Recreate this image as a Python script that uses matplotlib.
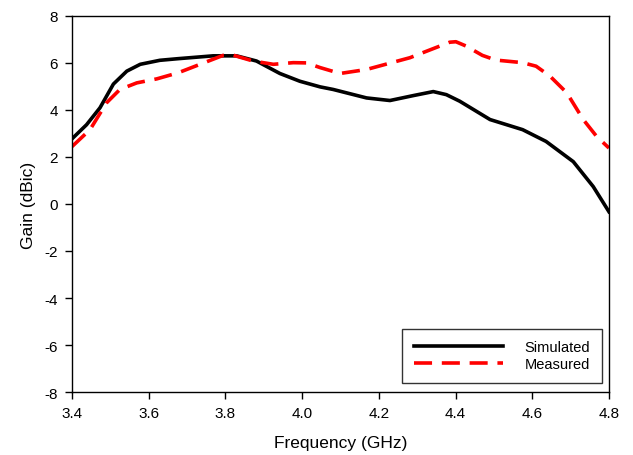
import matplotlib
matplotlib.use("Agg")
import matplotlib.pyplot as plt

plt.rcParams["font.family"] = ["Liberation Sans", "DejaVu Sans"]
plt.rcParams["axes.unicode_minus"] = False

# ------------------------------------------------------
# Data
# ------------------------------------------------------
sim_f = [3.400, 3.438, 3.473, 3.508, 3.543, 3.578, 3.629, 3.677, 3.768, 3.829,
         3.881, 3.942, 3.994, 4.047, 4.081, 4.168, 4.229, 4.290, 4.342, 4.376,
         4.411, 4.490, 4.575, 4.636, 4.707, 4.759, 4.800]
sim_g = [2.77, 3.37, 4.09, 5.10, 5.65, 5.94, 6.11, 6.18, 6.30, 6.30,
         6.08, 5.55, 5.22, 4.98, 4.87, 4.51, 4.40, 4.61, 4.78, 4.65,
         4.37, 3.59, 3.16, 2.66, 1.80, 0.74, -0.33]

meas_f = [3.400, 3.447, 3.490, 3.525, 3.569, 3.621, 3.677, 3.734, 3.794, 3.820,
          3.872, 3.925, 3.977, 4.012, 4.047, 4.099, 4.168, 4.238, 4.281, 4.325,
          4.385, 4.401, 4.427, 4.470, 4.505, 4.575, 4.610, 4.646, 4.690, 4.733,
          4.768, 4.800]
meas_g = [2.44, 3.16, 4.30, 4.87, 5.15, 5.32, 5.58, 5.94, 6.32, 6.33,
          6.08, 5.94, 6.01, 6.00, 5.80, 5.55, 5.72, 6.03, 6.22, 6.50,
          6.88, 6.90, 6.72, 6.32, 6.12, 6.01, 5.86, 5.44, 4.73, 3.59,
          2.87, 2.38]

xticks = [3.4, 3.6, 3.8, 4.0, 4.2, 4.4, 4.6, 4.8]
yticks = [-8, -6, -4, -2, 0, 2, 4, 6, 8]

# ------------------------------------------------------
# Plot
# ------------------------------------------------------
fig = plt.figure(figsize=(6.33, 4.56), dpi=100)
ax = fig.add_axes([0.1137, 0.138, 0.8483, 0.825])

ax.plot(sim_f, sim_g, color="black", linewidth=2.6, label="Simulated",
        solid_joinstyle="round")
ax.plot(meas_f, meas_g, color="red", linewidth=2.6, linestyle=(0, (5, 2.7)),
        label="Measured", dash_joinstyle="round")

ax.set_xlim(3.4, 4.8)
ax.set_ylim(-8, 8)
ax.set_xticks(xticks)
ax.set_xticklabels([f"{t:.1f}" for t in xticks])
ax.set_yticks(yticks)
ax.tick_params(direction="out", length=5, width=1, labelsize=11,
               color="black", pad=5)
for s in ax.spines.values():
    s.set_linewidth(1)
    s.set_color("black")

ax.set_xlabel("Frequency (GHz)", fontsize=12.5, labelpad=11)
ax.set_ylabel("Gain (dBic)", fontsize=12.5, labelpad=6)

leg = ax.legend(loc="lower right", fontsize=10.5, handlelength=6.1,
                handletextpad=1.5, frameon=True, fancybox=False,
                borderpad=0.8, labelspacing=0.2, borderaxespad=0,
                bbox_to_anchor=(0.987, 0.024))
leg.get_frame().set_edgecolor("black")
leg.get_frame().set_linewidth(1)
for t in leg.get_texts():
    t.set_horizontalalignment("right")

fig.savefig("out.png", dpi=100)
